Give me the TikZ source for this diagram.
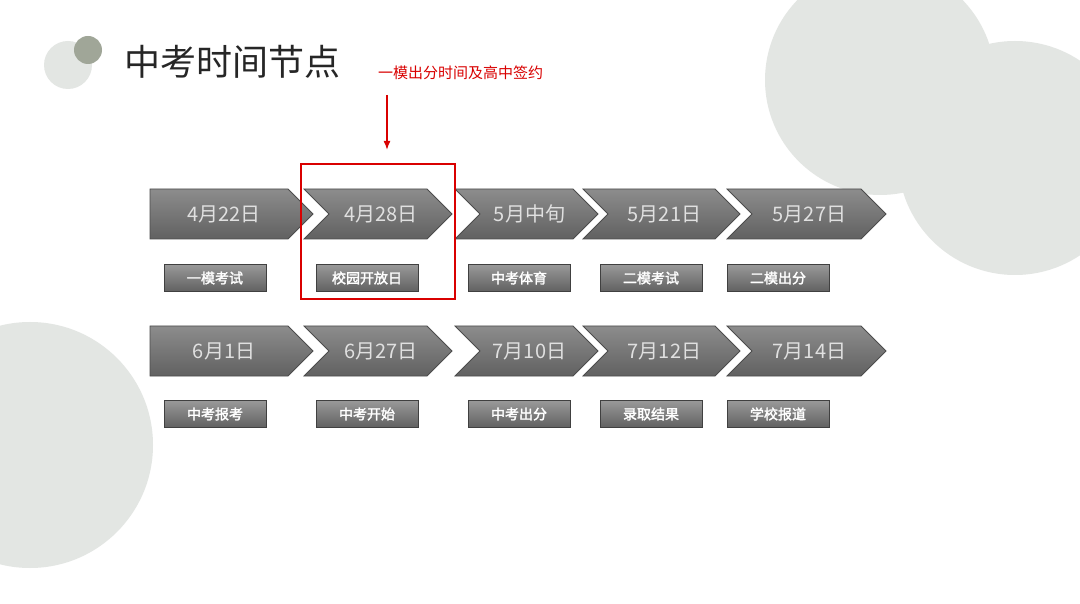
\documentclass[tikz,border=0pt]{standalone}
\usepackage{fontspec}
\usetikzlibrary{arrows.meta}
\setmainfont{Noto Sans CJK SC}
\newfontfamily\cjkb{Noto Sans CJK SC}[FakeBold=2]
\begin{document}
\begin{tikzpicture}[x=1pt,y=-1pt,
  chev/.style={draw=black!70, line width=0.8pt, top color=black!45, bottom color=black!62},
  chevtxt/.style={text=black!12, font=\fontsize{20}{23}\selectfont, anchor=center},
  lab/.style={draw=black!75, line width=0.8pt, top color=black!40, bottom color=black!62, minimum width=102pt, minimum height=27pt, inner sep=0pt, text=white, font=\cjkb\fontsize{14}{16}\selectfont},
  redc/.style={draw=red!85!black, line width=1.5pt}]
\useasboundingbox (0,0) rectangle (1080,604);
\fill[white] (0,0) rectangle (1080,604);
\begin{scope}
\clip (0,0) rectangle (1080,604);
\fill[color={rgb,255:red,227;green,230;blue,227}] (880,80) circle (115);
\fill[color={rgb,255:red,227;green,230;blue,227}] (1015,158) circle (117);
\fill[color={rgb,255:red,227;green,230;blue,227}] (30,445) circle (123);
\fill[color={rgb,255:red,227;green,230;blue,227}] (68,65) circle (24);
\fill[color={rgb,255:red,160;green,166;blue,152}] (88,50) circle (14);
\end{scope}
\node[anchor=west, font=\fontsize{36}{40}\selectfont, text=black!85] (title) at (121,62) {中考时间节点};
\node[anchor=west, font=\fontsize{15}{18}\selectfont, text=red!85!black, inner sep=0pt] (note) at (378,73) {一模出分时间及高中签约};
\coordinate (a1) at (387,95); \coordinate (a2) at (387,150);
\draw[red!85!black, line width=1.5pt, -{Latex[length=9pt,width=7pt]}] (a1) -- (a2);
\foreach \row/\yt/\yb/\ly/\lst/\dst in {
 1/189/239/278/{一模考试,校园开放日,中考体育,二模考试,二模出分}/{4月22日,4月28日,5月中旬,5月21日,5月27日},
 2/326/376/414/{中考报考,中考开始,中考出分,录取结果,学校报道}/{6月1日,6月27日,7月10日,7月12日,7月14日}} {
  \foreach \s/\t/\lx [count=\i] in {150/313/215, 304/452/367, 455/598/519, 583/740/651, 727/886/778} {
    \pgfmathsetmacro{\ym}{(\yt+\yb)/2}
    \ifnum\i=1
      \draw[chev] (\s,\yt) -- (\t-25,\yt) -- (\t,\ym) -- (\t-25,\yb) -- (\s,\yb) -- cycle;
    \else
      \draw[chev] (\s,\yt) -- (\t-25,\yt) -- (\t,\ym) -- (\t-25,\yb) -- (\s,\yb) -- (\s+25,\ym) -- cycle;
    \fi
    \pgfmathsetmacro{\cx}{\i==1 ? (\s+\t-25)/2+5 : (\s+\t)/2+3}
    \foreach \d [count=\j] in \dst { \ifnum\j=\i \node[chevtxt] (c\row\i) at (\cx,\ym) {\d}; \fi }
    \foreach \l [count=\j] in \lst { \ifnum\j=\i \node[lab] (l\row\i) at (\lx,\ly) {\l}; \fi }
  }
}
\node[redc, minimum width=154pt, minimum height=135pt, inner sep=0pt] (hl) at (378,231.5) {};
\end{tikzpicture}
\end{document}
